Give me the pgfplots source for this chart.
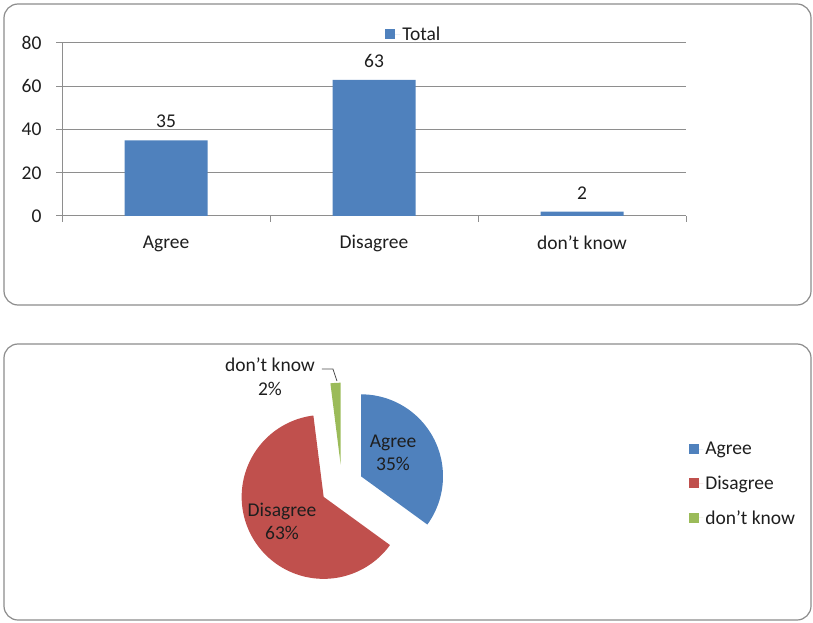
\documentclass[border=0pt]{standalone}
\usepackage{fontspec}
\setmainfont{Carlito}
\usepackage{pgfplots}
\pgfplotsset{compat=1.18}
\definecolor{xblue}{HTML}{4F81BD}
\definecolor{xred}{HTML}{C0504D}
\definecolor{xgreen}{HTML}{9BBB59}
\definecolor{framegray}{HTML}{8C8C8C}
\definecolor{gridgray}{HTML}{8E8E8E}
\definecolor{txt}{HTML}{1E1E1E}
\newcommand{\cf}{\fontsize{19.5}{23.4}\selectfont}
\def\vA{35}\def\vB{63}\def\vC{2}\def\ex{0.26}
\begin{document}
\begin{tikzpicture}[x=1pt,y=1pt]
\path (0,0) rectangle (813,622);
\draw[framegray, line width=1.2pt, rounded corners=14pt] (4,317) rectangle (811,618);
\draw[framegray, line width=1.2pt, rounded corners=14pt] (4,2) rectangle (811,278);

\begin{axis}[
  at={(62pt,406pt)}, anchor=south west,
  scale only axis, width=624pt, height=173pt,
  ybar, bar width=83pt,
  xmin=-0.5, xmax=2.5, ymin=0, ymax=80,
  xtick={0,1,2}, xticklabels={Agree, Disagree, don’t know},
  minor xtick={-0.5,0.5,1.5,2.5},
  ytick={0,20,40,60,80},
  axis x line=bottom, axis y line=left,
  axis line style={-, draw=gridgray, line width=1pt},
  tick align=outside,
  major x tick style={draw=none},
  minor x tick style={draw=gridgray, line width=1pt},
  minor tick length=6pt,
  major y tick style={draw=gridgray, line width=1pt},
  major tick length=6pt,
  ymajorgrids, grid style={draw=gridgray, line width=1pt},
  /pgf/number format/assume math mode=true,
  tick label style={font=\cf, text=txt},
  xticklabel style={yshift=-10pt},
  yticklabel style={xshift=-11pt},
  nodes near coords,
  every node near coord/.append style={font=\cf, text=txt, yshift=9pt},
  legend style={at={(0.513,1.052)}, anchor=west, draw=none, fill=none, font=\cf, text=txt},
  legend image code/.code={\fill[#1] (0pt,-5pt) rectangle (10pt,5pt); \path (0pt,0pt) -- (15pt,0pt);},
]
\addplot[fill=xblue, draw=none] coordinates {(0,35) (1,63) (2,2)};
\addlegendentry{Total}
\end{axis}

\pgfmathsetmacro\aOne{90-3.6*\vA}
\pgfmathsetmacro\aTwo{\aOne-3.6*\vB}
\pgfmathsetmacro\aThree{\aTwo-3.6*\vC}
\pgfmathsetmacro\mA{(90+\aOne)/2}
\pgfmathsetmacro\mB{(\aOne+\aTwo)/2}
\pgfmathsetmacro\mC{(\aTwo+\aThree)/2}

\begin{axis}[
  at={(342pt,136pt)}, anchor=center,
  scale only axis, width=328pt, height=262.4pt,
  xmin=-2, xmax=2, ymin=-1.6, ymax=1.6,
  hide axis, clip=false,
  legend style={at={(1.549,0.5076)}, anchor=west, draw=none, fill=none, font=\cf, text=txt,
     row sep=15.5pt, cells={anchor=west}},
  legend image code/.code={\fill[#1] (0pt,-5pt) rectangle (10pt,5pt); \path (0pt,0pt) -- (14pt,0pt);},
]
\addplot[fill=xblue, draw=none, domain=\aOne:90, samples=90]
  ({\ex*cos(\mA)+cos(x)}, {\ex*sin(\mA)+sin(x)}) -- (axis cs:{\ex*cos(\mA)},{\ex*sin(\mA)}) -- cycle;
\addlegendentry{Agree}
\addplot[fill=xred, draw=none, domain=\aTwo:\aOne, samples=150]
  ({\ex*cos(\mB)+cos(x)}, {\ex*sin(\mB)+sin(x)}) -- (axis cs:{\ex*cos(\mB)},{\ex*sin(\mB)}) -- cycle;
\addlegendentry{Disagree}
\addplot[fill=xgreen, draw=none, domain=\aThree:\aTwo, samples=10]
  ({\ex*cos(\mC)+cos(x)}, {\ex*sin(\mC)+sin(x)}) -- (axis cs:{\ex*cos(\mC)},{\ex*sin(\mC)}) -- cycle;
\addlegendentry{don’t know}
\node[font=\cf, text=txt, align=center] at (axis cs:0.622,0.402) {Agree\\35\%};
\node[font=\cf, text=txt, align=center] at (axis cs:-0.732,-0.433) {Disagree\\63\%};
\node[font=\cf, text=txt, align=center] at (axis cs:-0.878,1.335) {don’t know\\2\%};
\draw[black!70, line width=0.8pt] (axis cs:-0.244,1.427) -- (axis cs:-0.11,1.427) -- (axis cs:-0.061,1.28);
\end{axis}
\end{tikzpicture}
\end{document}
